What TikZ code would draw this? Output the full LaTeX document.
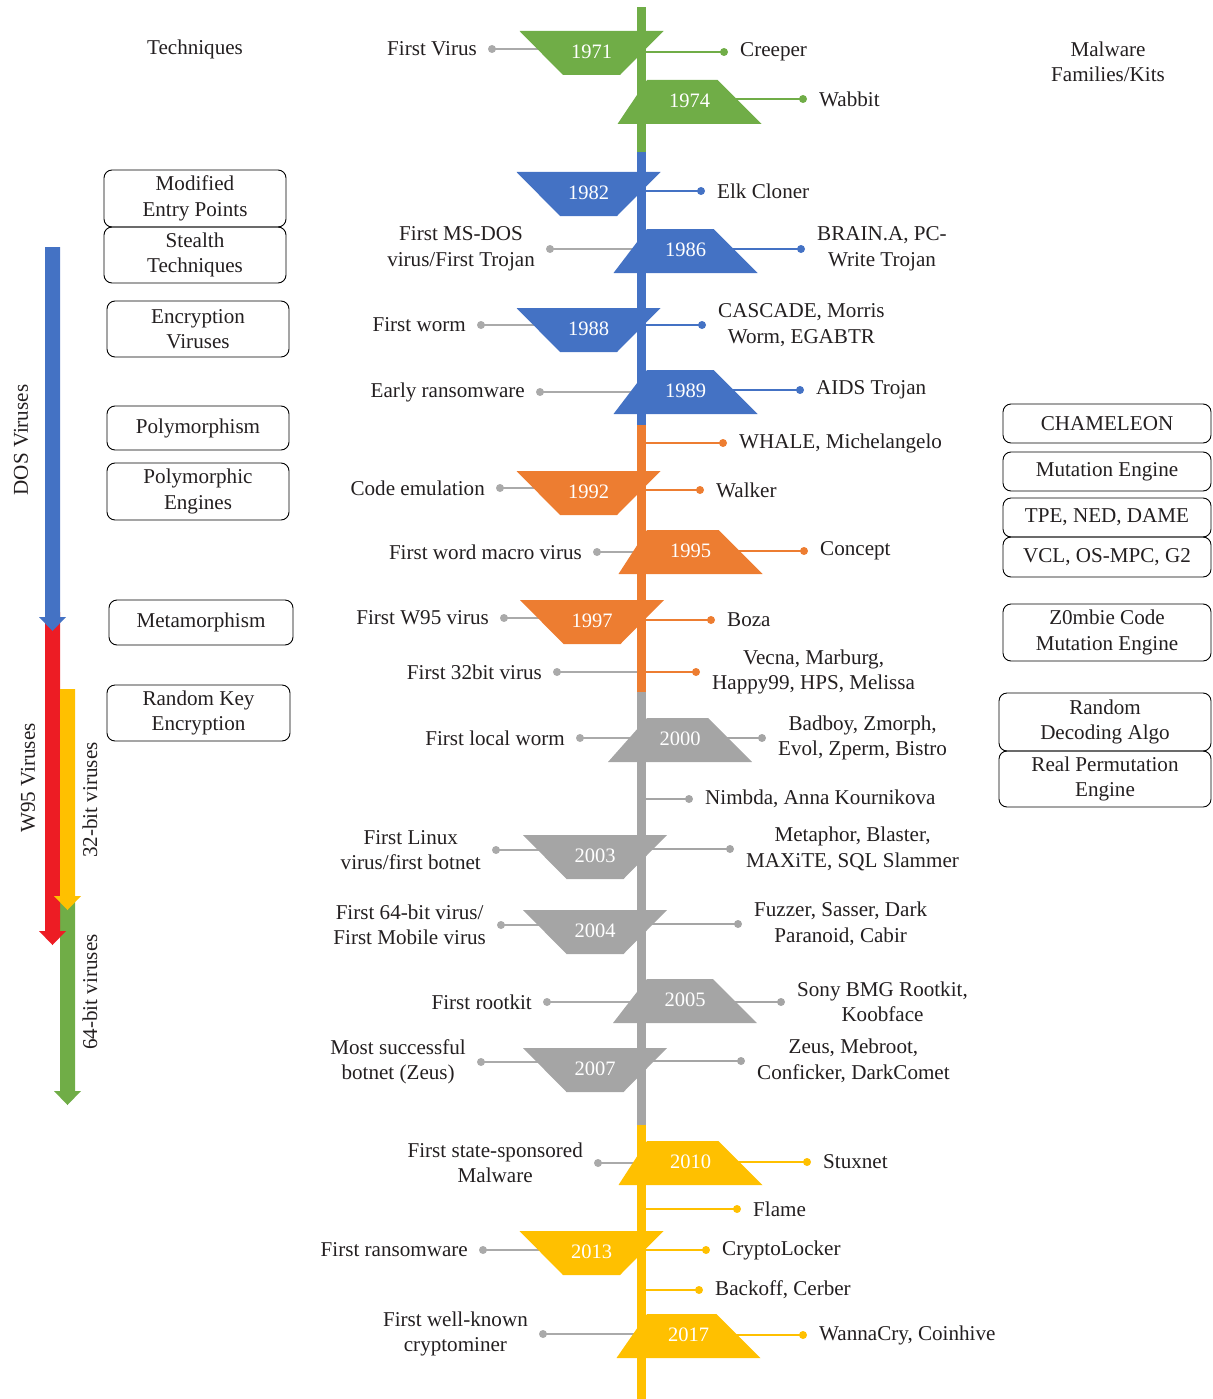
\documentclass[tikz,border=0pt]{standalone}
\usepackage{fontspec}
\setmainfont{Liberation Serif}
\definecolor{ink}{HTML}{231F20}
\definecolor{egreen}{HTML}{70AD47}
\definecolor{eblue}{HTML}{4472C4}
\definecolor{eorange}{HTML}{ED7D31}
\definecolor{egray}{HTML}{A5A5A5}
\definecolor{eyellow}{HTML}{FFC000}
\definecolor{ered}{HTML}{ED1C24}
\definecolor{linkgray}{HTML}{AAAAAA}
\newcommand\txtfont{\fontsize{21.1}{25.5}\selectfont}
\newcommand\yearfont{\fontsize{20.5}{24}\selectfont}
% event on the left of the time line: id, dot x, y, label
\newcommand\evleft[4]{%
  \coordinate (#1b) at (641.5,#3);
  \node[evdot, fill=linkgray] (#1d) at (#2,#3) {};
  \draw[link, draw=linkgray] (#1d.center) -- (#1b);
  \node[lbl, anchor=east] (#1t) at ([xshift=-15pt]#1d.center) {#4};
}
% event on the right of the time line: id, dot x, y, colour, label
\newcommand\evright[5]{%
  \coordinate (#1b) at (641.5,#3);
  \node[evdot, fill=#4] (#1d) at (#2,#3) {};
  \draw[link, draw=#4] (#1b) -- (#1d.center);
  \node[lbl, anchor=west] (#1t) at ([xshift=16pt]#1d.center) {#5};
}
% year badge, wide side on top: year, centre x, top y, colour
\newcommand\yrdown[4]{%
  \fill[#4] (#2-72,#3) -- (#2+72,#3) -- (#2+28.5,#3+44) -- (#2-28.5,#3+44) -- cycle;
  \node[yr] (y#1) at (#2,#3+21) {#1};
}
% year badge, wide side at the bottom: year, centre x, top y, colour
\newcommand\yrup[4]{%
  \fill[#4] (647,#3) -- (#2+28,#3) -- (#2+72,#3+44) -- (#2-72,#3+44) -- cycle;
  \node[yr] (y#1) at (#2,#3+21) {#1};
}
\begin{document}
\begin{tikzpicture}[x=1pt,y=-1pt,
  lbl/.style={font=\txtfont, text=ink, inner sep=0pt, align=center},
  yr/.style={font=\yearfont, text=white, inner sep=0pt},
  evdot/.style={circle, inner sep=0pt, minimum size=8pt},
  link/.style={line width=1.4pt},
  tbox/.style={draw=black, line width=0.9pt, rounded corners=8pt, font=\txtfont,
    text=ink, align=center, inner sep=0pt},
  vlbl/.style={font=\txtfont, text=ink, inner sep=0pt, rotate=90}]
\useasboundingbox (0,0) rectangle (1212,1399);

% column headings
\node[lbl] (hTech) at (195,49) {Techniques};
\node[lbl] (hMal) at (1108,62) {Malware\\Families/Kits};

% connectors (drawn below the time line and the badges)
\evleft{fv}{492}{49}{First Virus}
\evright{cr}{724}{52}{egreen}{Creeper}
\evright{wa}{803}{99}{egreen}{Wabbit}
\evright{el}{701}{191}{eblue}{Elk Cloner}
\evleft{ms}{550}{249}{First MS-DOS\\virus/First Trojan}
\evright{br}{801}{249}{eblue}{BRAIN.A, PC-\\Write Trojan}
\evleft{fw}{481}{325}{First worm}
\evright{ca}{702}{325}{eblue}{CASCADE, Morris\\Worm, EGABTR}
\evleft{er}{540}{392}{Early ransomware}
\evright{ai}{800}{390}{eblue}{AIDS Trojan}
\evright{wh}{723}{443}{eorange}{WHALE, Michelangelo}
\evleft{ce}{500}{488}{Code emulation}
\evright{wk}{700}{490}{eorange}{Walker}
\evleft{wm}{597}{552}{First word macro virus}
\evright{co}{804}{551}{eorange}{Concept}
\evleft{w95}{504}{618}{First W95 virus}
\evright{bz}{711}{620}{eorange}{Boza}
\evleft{b32}{557}{672}{First 32bit virus}
\evright{ve}{696}{672}{eorange}{Vecna, Marburg,\\Happy99, HPS, Melissa}
\evleft{lw}{580}{738}{First local worm}
\evright{bb}{762}{738}{egray}{Badboy, Zmorph,\\Evol, Zperm, Bistro}
\evright{ni}{689}{799}{egray}{Nimbda, Anna Kournikova}
\evleft{li}{496}{850}{First Linux\\virus/first botnet}
\evright{me}{730}{849}{egray}{Metaphor, Blaster,\\MAXiTE, SQL Slammer}
\evleft{b64}{501}{925}{First 64-bit virus/\\First Mobile virus}
\evright{fu}{738}{924}{egray}{Fuzzer, Sasser, Dark\\Paranoid, Cabir}
\evleft{rk}{547}{1002}{First rootkit}
\evright{so}{781}{1002}{egray}{Sony BMG Rootkit,\\Koobface}
\evleft{zb}{481}{1062}{Most successful\\botnet (Zeus)}
\evright{ze}{741}{1061}{egray}{Zeus, Mebroot,\\Conficker, DarkComet}
\evleft{ss}{598}{1163}{First state-sponsored\\Malware}
\evright{st}{807}{1162}{eyellow}{Stuxnet}
\evright{fl}{737}{1209}{eyellow}{Flame}
\evleft{fr}{483}{1250}{First ransomware}
\evright{cl}{706}{1250}{eyellow}{CryptoLocker}
\evright{bc}{699}{1290}{eyellow}{Backoff, Cerber}
\evleft{cm}{543}{1334}{First well-known\\cryptominer}
\evright{wc}{803}{1335}{eyellow}{WannaCry, Coinhive}

% time line, one colour per era
\fill[egreen]  (637,7)    rectangle (646,152);
\fill[eblue]   (637,152)  rectangle (646,425);
\fill[eorange] (637,425)  rectangle (646,692);
\fill[egray]   (637,692)  rectangle (646,1125);
\fill[eyellow] (637,1125) rectangle (646,1399);

% year badges
\yrdown{1971}{591.5}{31}{egreen}
\yrup{1974}{689.5}{80}{egreen}
\yrdown{1982}{588.5}{172}{eblue}
\yrup{1986}{685.5}{229}{eblue}
\yrdown{1988}{588.5}{308}{eblue}
\yrup{1989}{685.5}{370}{eblue}
\yrdown{1992}{588.5}{471}{eorange}
\yrup{1995}{690.5}{530}{eorange}
\yrdown{1997}{592}{600}{eorange}
\yrup{2000}{680}{718}{egray}
\yrdown{2003}{595}{835}{egray}
\yrdown{2004}{595}{910}{egray}
\yrup{2005}{685}{979}{egray}
\yrdown{2007}{595}{1048}{egray}
\yrup{2010}{690.5}{1141}{eyellow}
\yrdown{2013}{591.5}{1231}{eyellow}
\yrup{2017}{688.5}{1314}{eyellow}

% era arrows on the left
\fill[egreen] (60,896) -- (75,896) -- (75,1091) -- (81,1091) -- (67.5,1105)
  -- (54,1091) -- (60,1091) -- cycle;
\fill[ered] (45,612) -- (60,612) -- (60,931) -- (66,931) -- (52.5,945)
  -- (39,931) -- (45,931) -- cycle;
\fill[eyellow] (60,689) -- (75,689) -- (75,896) -- (81,896) -- (67.5,910)
  -- (54,896) -- (60,896) -- cycle;
\fill[eblue] (45,247) -- (60,247) -- (60,617) -- (66,617) -- (52.5,631)
  -- (39,617) -- (45,617) -- cycle;
\node[vlbl] (vDos) at (21,440) {DOS Viruses};
\node[vlbl] (vW95) at (28,778) {W95 Viruses};
\node[vlbl] (v32) at (90,800) {32-bit viruses};
\node[vlbl] (v64) at (90,992) {64-bit viruses};

% technique boxes
\node[tbox, minimum width=182pt, minimum height=57pt] (tMod) at (195,198.5) {Modified\\Entry Points};
\node[tbox, minimum width=182pt, minimum height=56pt] (tSte) at (195,255) {Stealth\\Techniques};
\node[tbox, minimum width=182pt, minimum height=56pt] (tEnc) at (198,329) {Encryption\\Viruses};
\node[tbox, minimum width=182pt, minimum height=44pt] (tPol) at (198,428) {Polymorphism};
\node[tbox, minimum width=182pt, minimum height=57pt] (tPoE) at (198,491.5) {Polymorphic\\Engines};
\node[tbox, minimum width=184pt, minimum height=45pt] (tMet) at (201,622.5) {Metamorphism};
\node[tbox, minimum width=183pt, minimum height=56pt] (tRk) at (198.5,713) {Random Key\\Encryption};

% malware family / kit boxes
\node[tbox, minimum width=208pt, minimum height=39pt] (kCha) at (1107,423.5) {CHAMELEON};
\node[tbox, minimum width=208pt, minimum height=39pt] (kMut) at (1107,471.5) {Mutation Engine};
\node[tbox, minimum width=208pt, minimum height=39pt] (kTpe) at (1107,517.5) {TPE, NED, DAME};
\node[tbox, minimum width=208pt, minimum height=40pt] (kVcl) at (1107,557) {VCL, OS-MPC, G2};
\node[tbox, minimum width=208pt, minimum height=57pt] (kZom) at (1107,632.5) {Z0mbie Code\\Mutation Engine};
\node[tbox, minimum width=212pt, minimum height=58pt] (kRnd) at (1105,722) {Random\\Decoding Algo};
\node[tbox, minimum width=212pt, minimum height=56pt] (kRpe) at (1105,779) {Real Permutation\\Engine};
\end{tikzpicture}
\end{document}
